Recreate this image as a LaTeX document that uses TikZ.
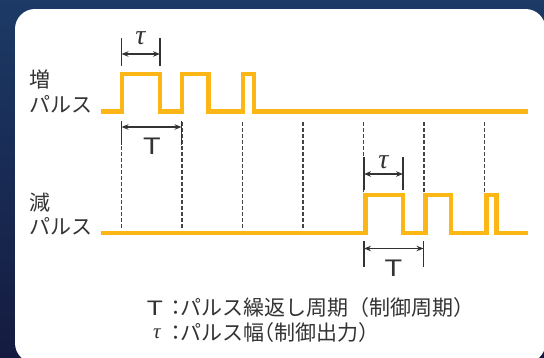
\documentclass[tikz,border=0pt]{standalone}
\usepackage{fontspec}
\setmainfont{Noto Sans CJK JP}
\newfontfamily\greekit{Liberation Serif}
\newfontfamily\latinsans{Liberation Sans}
\usetikzlibrary{arrows.meta}
\definecolor{pulse}{HTML}{FCB716}
\definecolor{ink}{HTML}{333333}
\definecolor{dashc}{HTML}{444444}
\definecolor{navyA}{HTML}{1C3A66}
\definecolor{navyB}{HTML}{151B40}
\newcommand\Tlab{{\latinsans\fontsize{24}{26}\selectfont\scalebox{1.2}[1]{T}}}
\newcommand\Tleg{{\latinsans\fontsize{21}{23}\selectfont\scalebox{1.25}[1]{T}}}
\newcommand\taulab[1]{{\greekit\itshape\fontsize{#1}{#1}\selectfont τ}}
\newcommand\txt{\fontsize{21}{24}\selectfont}
\begin{document}
\begin{tikzpicture}[x=1pt,y=-1pt,
  wave/.style={pulse,line width=4.5pt,line join=miter},
  dashline/.style={dashc,line width=1.1pt,dash pattern=on 3.5pt off 2.5pt},
  tick/.style={ink,line width=1.3pt},
  dimarrow/.style={ink,line width=1.2pt,{Stealth[length=7pt,width=5.5pt]}-{Stealth[length=7pt,width=5.5pt]}},
  lbl/.style={inner sep=0pt,text=ink,font=\txt},
  dimlbl/.style={inner sep=0pt,text=ink}]
\useasboundingbox (0,0) rectangle (544,357);
\clip (0,0) rectangle (544,357);
\shade[top color=navyA,bottom color=navyB] (0,0) rectangle (544,357);
\fill[white,rounded corners=20pt] (15,9) rectangle (545.5,363);

% dashed guide lines
\foreach \x [count=\i] in {121.5,182,242.5,303}{
  \coordinate (dta\i) at (\x,122);
  \coordinate (dba\i) at (\x,228);
  \draw[dashline] (dta\i) -- (dba\i);
}
\foreach \x [count=\i] in {363.5,424,484.5}{
  \coordinate (dtb\i) at (\x,122);
  \coordinate (dbb\i) at (\x,192);
  \draw[dashline] (dtb\i) -- (dbb\i);
}

% waveforms
\draw[wave] (101,111.7) -| (122,73.9) -| (160,111.7) -| (182,73.9) -| (208.5,111.7)
  -| (243,73.9) -| (254,111.7) -- (528,111.7);
\draw[wave] (101,232.8) -| (365.5,195) -| (403,232.8) -| (425.3,195) -| (450.8,232.8)
  -| (486.5,195) -| (496.5,232.8) -- (528,232.8);

% upper tau dimension
\coordinate (ua1) at (121.5,38); \coordinate (ua2) at (121.5,66);
\coordinate (ub1) at (160,38);   \coordinate (ub2) at (160,66);
\draw[tick] (ua1) -- (ua2);
\draw[tick] (ub1) -- (ub2);
\coordinate (uarrL) at (121.5,54); \coordinate (uarrR) at (160,54);
\draw[dimarrow] (uarrL) -- (uarrR);
\node[dimlbl] (tauA) at (140.5,38.5) {\taulab{28}};

% upper T dimension
\coordinate (va1) at (121.5,121); \coordinate (va2) at (121.5,145);
\coordinate (vb1) at (181.5,121); \coordinate (vb2) at (181.5,145);
\draw[tick] (va1) -- (va2);
\draw[tick] (vb1) -- (vb2);
\coordinate (varrL) at (121.5,127); \coordinate (varrR) at (181.5,127);
\draw[dimarrow] (varrL) -- (varrR);
\node[dimlbl] (TA) at (152,146.5) {\Tlab};

% lower tau dimension
\coordinate (wa1) at (364,157); \coordinate (wa2) at (364,190);
\coordinate (wb1) at (403,157); \coordinate (wb2) at (403,190);
\draw[tick] (wa1) -- (wa2);
\draw[tick] (wb1) -- (wb2);
\coordinate (warrL) at (364,174); \coordinate (warrR) at (403,174);
\draw[dimarrow] (warrL) -- (warrR);
\node[dimlbl] (tauB) at (383.5,162) {\taulab{28}};

% lower T dimension
\coordinate (xa1) at (364,241); \coordinate (xa2) at (364,267);
\coordinate (xb1) at (423.5,241); \coordinate (xb2) at (423.5,267);
\draw[tick] (xa1) -- (xa2);
\draw[tick] (xb1) -- (xb2);
\coordinate (xarrL) at (364,248.5); \coordinate (xarrR) at (423.5,248.5);
\draw[dimarrow] (xarrL) -- (xarrR);
\node[dimlbl] (TB) at (393.5,268) {\Tlab};

% left labels
\node[lbl,anchor=west] (zou) at (29,79.5) {増};
\node[lbl,anchor=west] (zoup) at (29,104) {パルス};
\node[lbl,anchor=west] (gen) at (29,202.5) {減};
\node[lbl,anchor=west] (genp) at (29,226) {パルス};

% legend
\node[dimlbl] (legT) at (155,308.5) {\Tleg};
\node[lbl] (colA) at (176,308) {：};
\node[lbl,anchor=west] (legA) at (180,308) {パルス繰返し周期（制御周期）};
\node[dimlbl] (legTau) at (157,333.5) {\taulab{21}};
\node[lbl] (colB) at (176,333) {：};
\node[lbl,anchor=west] (legB) at (180,333) {パルス幅\kern-.5em（制御出力）};
\end{tikzpicture}
\end{document}
